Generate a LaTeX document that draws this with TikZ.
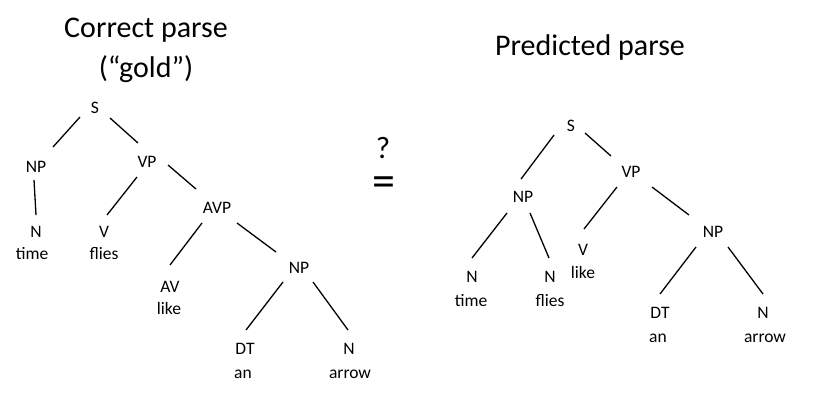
\documentclass[tikz,border=0pt]{standalone}
\usepackage{fontspec}
\setmainfont{Carlito}
\begin{document}
\begin{tikzpicture}[x=1pt,y=-1pt,
  lab/.style={anchor=base,inner sep=0pt,font=\fontsize{17.5}{21}\selectfont},
  ttl/.style={anchor=base,inner sep=0pt,font=\fontsize{30}{36}\selectfont},
  edge/.style={line width=1.3pt,black}]
\useasboundingbox (0,0) rectangle (814,408);
% titles
\node[ttl] (t1) at (146,37) {Correct parse};
\node[ttl] (t2) at (146,77) {(“gold”)};
\node[ttl] (t3) at (590,55) {Predicted parse};
\node[ttl,font=\fontsize{31}{36}\selectfont] (q) at (383,158) {?};
\node[anchor=center,inner sep=0pt,font=\fontsize{46}{50}\selectfont] (eq) at (384,187) {=};
% left tree
\node[lab] (lS) at (95,113) {S};
\node[lab] (lNP) at (36,172) {NP};
\node[lab] (lVP) at (147,167) {VP};
\node[lab] (lN) at (36,237) {N};
\node[lab] (ltime) at (32,259) {time};
\node[lab] (lV) at (104,237) {V};
\node[lab] (lflies) at (104,259) {flies};
\node[lab] (lAVP) at (217,213) {AVP};
\node[lab] (lAV) at (170,292) {AV};
\node[lab] (llike) at (169,314) {like};
\node[lab] (lNPb) at (299,273) {NP};
\node[lab] (lDT) at (245,354) {DT};
\node[lab] (lan) at (243,378) {an};
\node[lab] (lNb) at (349,354) {N};
\node[lab] (larrow) at (350,378) {arrow};
\draw[edge] ([shift={(-15,4)}]lS.base) -- ([shift={(17,-25)}]lNP.base);
\draw[edge] ([shift={(15,5)}]lS.base) -- ([shift={(-9,-24)}]lVP.base);
\draw[edge] ([shift={(-2,8)}]lNP.base) -- ([shift={(0,-22)}]lN.base);
\draw[edge] ([shift={(-10,10)}]lVP.base) -- ([shift={(3,-22)}]lV.base);
\draw[edge] ([shift={(21,-2)}]lVP.base) -- ([shift={(-21,-24)}]lAVP.base);
\draw[edge] ([shift={(-15,10)}]lAVP.base) -- ([shift={(0,-27)}]lAV.base);
\draw[edge] ([shift={(20,10)}]lAVP.base) -- ([shift={(-23,-21)}]lNPb.base);
\draw[edge] ([shift={(-16,9)}]lNPb.base) -- ([shift={(1,-24)}]lDT.base);
\draw[edge] ([shift={(14,9)}]lNPb.base) -- ([shift={(-1,-24)}]lNb.base);
% right tree
\node[lab] (rS) at (571,131) {S};
\node[lab] (rNP) at (523,202) {NP};
\node[lab] (rVP) at (631,177) {VP};
\node[lab] (rN) at (472,282) {N};
\node[lab] (rtime) at (471,306) {time};
\node[lab] (rNb) at (550,282) {N};
\node[lab] (rflies) at (550,306) {flies};
\node[lab] (rV) at (583,255) {V};
\node[lab] (rlike) at (583,278) {like};
\node[lab] (rNPb) at (713,237) {NP};
\node[lab] (rDT) at (660,318) {DT};
\node[lab] (ran) at (658,342) {an};
\node[lab] (rNc) at (763,318) {N};
\node[lab] (rarrow) at (765,342) {arrow};
\draw[edge] ([shift={(-17,4)}]rS.base) -- ([shift={(-2,-23)}]rNP.base);
\draw[edge] ([shift={(14,2)}]rS.base) -- ([shift={(-20,-21)}]rVP.base);
\draw[edge] ([shift={(-16,11)}]rNP.base) -- ([shift={(0,-24)}]rN.base);
\draw[edge] ([shift={(7,11)}]rNP.base) -- ([shift={(-1,-24)}]rNb.base);
\draw[edge] ([shift={(-14,10)}]rVP.base) -- ([shift={(1,-26)}]rV.base);
\draw[edge] ([shift={(21,10)}]rVP.base) -- ([shift={(-24,-22)}]rNPb.base);
\draw[edge] ([shift={(-17,10)}]rNPb.base) -- ([shift={(0,-24)}]rDT.base);
\draw[edge] ([shift={(15,10)}]rNPb.base) -- ([shift={(0,-24)}]rNc.base);
\end{tikzpicture}
\end{document}
